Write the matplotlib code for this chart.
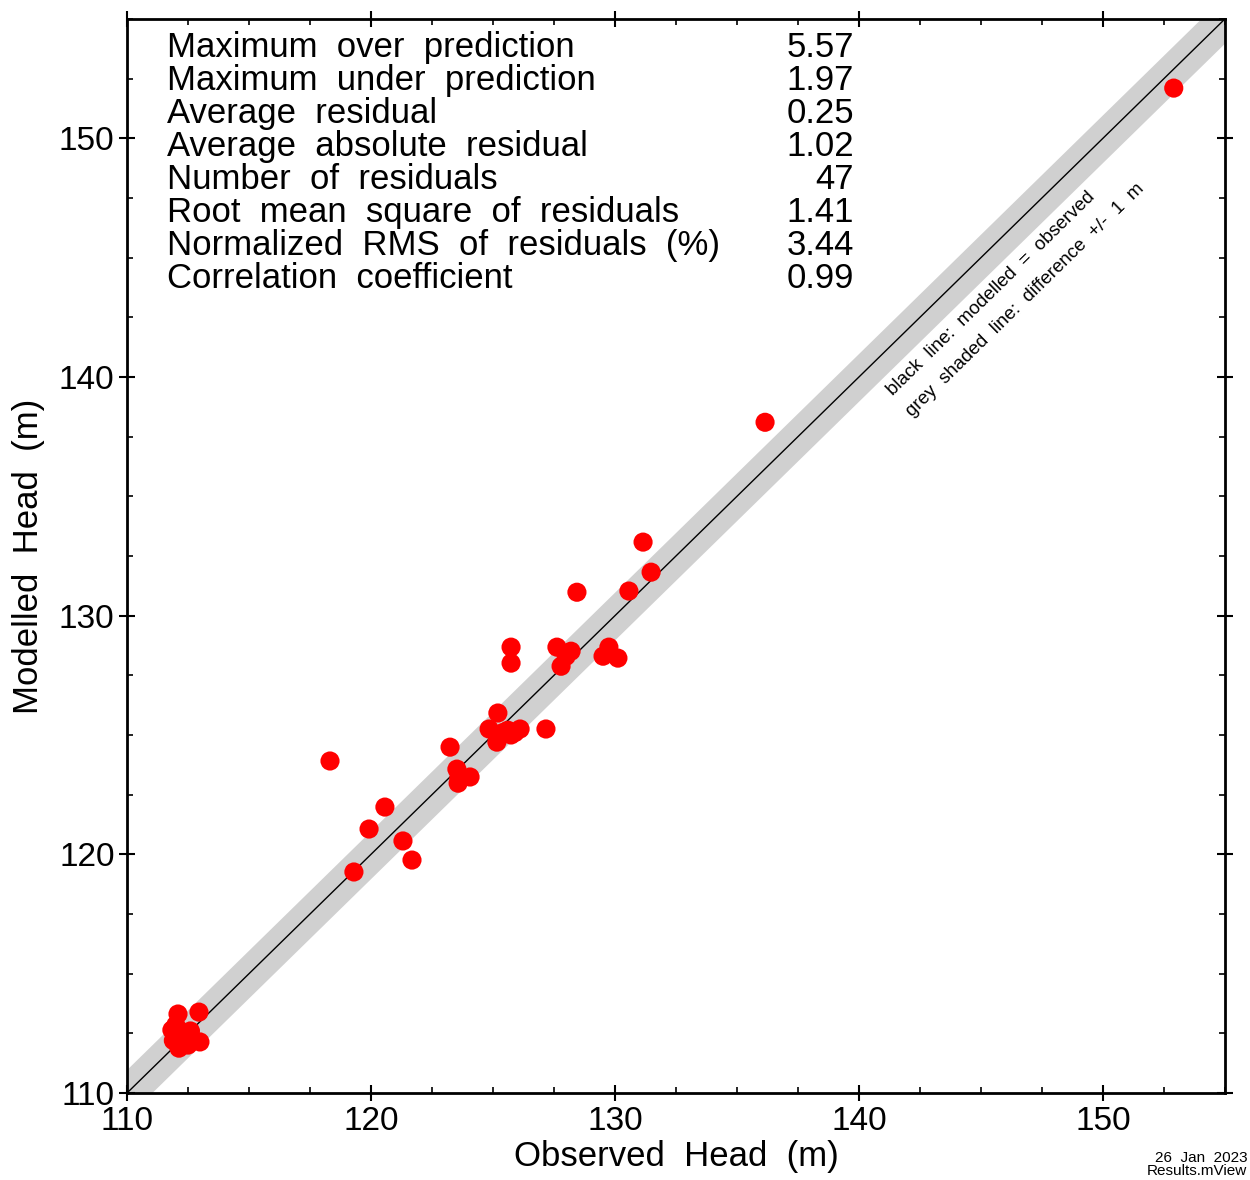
import numpy as np
import matplotlib
matplotlib.use('Agg')
import matplotlib.pyplot as plt
from matplotlib.ticker import MultipleLocator

plt.rcParams['font.family'] = ['Liberation Sans', 'DejaVu Sans']

# Observed vs modelled heads (m)
observed = [152.9, 136.15, 131.15, 131.48, 128.44, 130.57,
            125.74, 125.74, 127.62, 128.20, 127.79, 129.75, 129.51, 130.12,
            125.20, 124.84, 125.61, 126.11, 125.74, 125.16, 127.17, 123.24,
            123.52, 124.06, 123.57, 118.32, 120.57, 119.92, 121.31, 121.68, 119.30,
            112.09, 112.95, 111.84, 112.21, 112.99, 112.13, 112.50, 112.00,
            125.40, 128.00, 112.30, 111.90, 112.60, 123.60, 125.90, 112.40]
modelled = [152.1, 138.1, 133.08, 131.82, 130.98, 131.03,
            128.68, 128.01, 128.68, 128.51, 127.88, 128.68, 128.30, 128.22,
            125.92, 125.25, 125.20, 125.25, 125.00, 124.70, 125.25, 124.49,
            123.57, 123.24, 122.98, 123.91, 121.98, 121.06, 120.56, 119.76, 119.26,
            113.31, 113.39, 112.64, 112.30, 112.14, 111.88, 112.01, 112.85,
            125.10, 128.30, 112.50, 112.20, 112.60, 123.20, 125.10, 112.10]

stat_labels = ['Maximum  over  prediction',
               'Maximum  under  prediction',
               'Average  residual',
               'Average  absolute  residual',
               'Number  of  residuals',
               'Root  mean  square  of  residuals',
               'Normalized  RMS  of  residuals  (%)',
               'Correlation  coefficient']
stat_values = ['5.57', '1.97', '0.25', '1.02', '47', '1.41', '3.44', '0.99']

fig = plt.figure(figsize=(12.5, 11.8), dpi=100)
ax = fig.add_axes([0.1016, 0.0737, 0.8784, 0.9103])

lims = np.array([110, 155])
line_x = np.linspace(lims[0], lims[1], 10)

# +/- 1 m band and 1:1 line
ax.fill_between(line_x, line_x - 1, line_x + 1, color='#d0d0d0', lw=0, zorder=1)
ax.plot(line_x, line_x, color='black', lw=1, zorder=2)

ax.scatter(observed, modelled, s=190, color='red', edgecolors='none', zorder=3)

ax.set_xlim(*lims)
ax.set_ylim(*lims)
ax.xaxis.set_major_locator(MultipleLocator(10))
ax.yaxis.set_major_locator(MultipleLocator(10))
ax.xaxis.set_minor_locator(MultipleLocator(2.5))
ax.yaxis.set_minor_locator(MultipleLocator(2.5))
ax.tick_params(which='major', direction='inout', top=True, right=True,
               length=12, width=1.5, labelsize=24, pad=3)
ax.tick_params(which='minor', direction='in', top=True, right=True,
               length=4, width=1.2)
for sp in ax.spines.values():
    sp.set_linewidth(2)

ax.set_xlabel('Observed  Head  (m)', fontsize=25, va='center')
ax.set_ylabel('Modelled  Head  (m)', fontsize=25, va='center')
ax.xaxis.set_label_coords(0.5, -0.0595)
ax.yaxis.set_label_coords(-0.090, 0.5)

# statistics block
for i, (lab, val) in enumerate(zip(stat_labels, stat_values)):
    ypos = 0.973 - i * 0.0307
    ax.text(0.036, ypos, lab, transform=ax.transAxes, fontsize=25, va='center', ha='left')
    ax.text(0.662, ypos, val, transform=ax.transAxes, fontsize=25, va='center', ha='right')

ax.text(141.4, 139.2, 'black  line:  modelled  =  observed', rotation=44.4,
        rotation_mode='anchor', fontsize=13.5, ha='left', va='baseline')
ax.text(142.2, 138.3, 'grey  shaded  line:  difference  +/-  1  m', rotation=44.4,
        rotation_mode='anchor', fontsize=13.5, ha='left', va='baseline')

fig.text(0.998, 0.002, '26  Jan  2023\nResults.mView', ha='right', va='bottom',
         fontsize=11, linespacing=0.85)

fig.savefig('out.png', dpi=100)
